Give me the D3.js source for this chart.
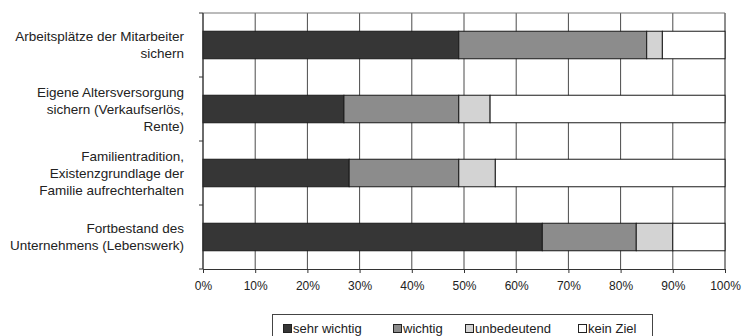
<!DOCTYPE html>
<html>
<head>
<meta charset="utf-8">
<script src="https://cdn.jsdelivr.net/npm/d3@7/dist/d3.min.js"></script>
<style>
  html, body { margin: 0; padding: 0; background: #fff; }
  svg { display: block; }
  text { font-family: "Liberation Sans", Arial, sans-serif; fill: #222; }
</style>
</head>
<body>
<svg id="chart" width="745" height="336"></svg>
<script>
// Ziele der Unternehmensnachfolge, Anteile in Prozent
const categories = [
  ["Arbeitsplätze der Mitarbeiter", "sichern"],
  ["Eigene Altersversorgung", "sichern (Verkaufserlös,", "Rente)"],
  ["Familientradition,", "Existenzgrundlage der", "Familie aufrechterhalten"],
  ["Fortbestand des", "Unternehmens (Lebenswerk)"]
];
const seriesNames = ["sehr wichtig", "wichtig", "unbedeutend", "kein Ziel"];
const sehrWichtig = [49, 27, 28, 65];
const wichtig     = [36, 22, 21, 18];
const unbedeutend = [3, 6, 7, 7];
const keinZiel    = [12, 45, 44, 10];
const tickValues  = [0, 10, 20, 30, 40, 50, 60, 70, 80, 90, 100];
const colors = ["#363636", "#8c8c8c", "#d3d3d3", "#ffffff"];

const svg = d3.select("#chart");
const plotL = 203, plotR = 725, plotT = 13, plotB = 269;

const x = d3.scaleLinear().domain([0, 100]).range([plotL, plotR]);
const y = d3.scaleBand().domain(d3.range(categories.length)).range([plotT, plotB]).paddingInner(0.57).paddingOuter(0.285);
const yBand = d3.scaleBand().domain(d3.range(categories.length)).range([plotT, plotB]);

// vertical gridlines
svg.append("g").selectAll("line").data(tickValues).join("line")
  .attr("x1", d => x(d)).attr("x2", d => x(d))
  .attr("y1", plotT).attr("y2", plotB)
  .attr("stroke", "#4a4a4a").attr("stroke-width", 1);

// plot frame (top and right)
svg.append("path")
  .attr("d", `M${plotL},${plotT}H${plotR}V${plotB}`)
  .attr("fill", "none").attr("stroke", "#777").attr("stroke-width", 1);

// stacked bars
const rows = categories.map((c, i) => {
  const vals = [sehrWichtig[i], wichtig[i], unbedeutend[i], keinZiel[i]];
  let acc = 0;
  return vals.map((v, k) => { const s = { i, k, x0: acc, x1: acc + v }; acc += v; return s; });
});
svg.append("g").selectAll("rect").data(rows.flat()).join("rect")
  .attr("x", d => x(d.x0))
  .attr("y", d => y(d.i))
  .attr("width", d => x(d.x1) - x(d.x0))
  .attr("height", y.bandwidth())
  .attr("fill", d => colors[d.k])
  .attr("stroke", "#1a1a1a").attr("stroke-width", 1);

// x axis
const xAxis = d3.axisBottom(x).tickValues(tickValues).tickFormat(d => d + "%").tickSize(4).tickPadding(8);
const gx = svg.append("g").attr("transform", `translate(0,${plotB})`).call(xAxis);
gx.select(".domain").attr("stroke", "#333");
gx.selectAll(".tick line").attr("stroke", "#333");
gx.selectAll("text").attr("font-size", 12).attr("fill", "#222").attr("font-family", "Liberation Sans, Arial, sans-serif");

// y axis with category boundary ticks
const gy = svg.append("g");
gy.append("line").attr("x1", plotL).attr("x2", plotL).attr("y1", plotT).attr("y2", plotB).attr("stroke", "#333");
gy.selectAll("line.t").data(d3.range(categories.length + 1)).join("line")
  .attr("class", "t")
  .attr("x1", plotL - 4).attr("x2", plotL)
  .attr("y1", d => plotT + d * yBand.step()).attr("y2", d => plotT + d * yBand.step())
  .attr("stroke", "#333");

// category labels
const lineH = 17;
categories.forEach((lines, i) => {
  const cy = yBand(i) + yBand.bandwidth() / 2;
  const t = svg.append("text").attr("text-anchor", "end").attr("font-size", 13.5);
  lines.forEach((ln, j) => {
    t.append("tspan").attr("x", 184)
      .attr("y", cy + (j - (lines.length - 1) / 2) * lineH)
      .attr("dy", "0.35em").text(ln);
  });
});

// legend
const lg = svg.append("g");
lg.append("rect").attr("x", 272.5).attr("y", 314.5).attr("width", 380).attr("height", 30)
  .attr("fill", "#fff").attr("stroke", "#444");
const legendX = [283, 393, 465, 578];
seriesNames.forEach((n, k) => {
  lg.append("rect").attr("x", legendX[k] + 0.5).attr("y", 324.5).attr("width", 8).attr("height", 8)
    .attr("fill", colors[k]).attr("stroke", "#222");
  lg.append("text").attr("x", legendX[k] + 10).attr("y", 328.5).attr("dy", "0.35em")
    .attr("font-size", 13).text(n);
});
</script>
</body>
</html>
